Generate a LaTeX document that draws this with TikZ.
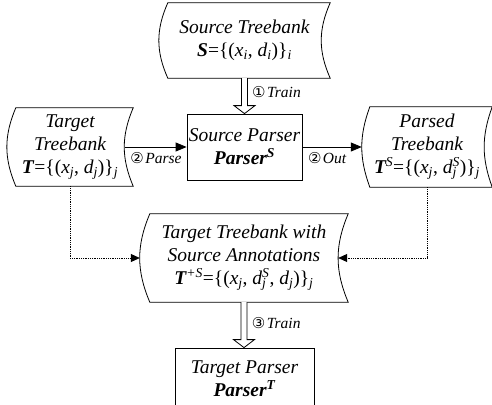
\documentclass[tikz,border=0pt]{standalone}
\usepackage{fontspec}
\setmainfont{Liberation Serif}
\newfontfamily\symfont{DejaVu Sans}
\usetikzlibrary{arrows.meta,calc}
\newcommand\sbs[1]{\textsubscript{\itshape #1}}
\newcommand\sbsp[2]{\rlap{\textsubscript{\itshape #1}}\textsuperscript{\itshape #2}}
\newcommand\storedborder[3]{%
  \draw[boxline] ([xshift=#2]#1.north west) -- (#1.north east)
    to[bend right=#3] (#1.south east) -- ([xshift=#2]#1.south west)
    to[bend left=#3] ([xshift=#2]#1.north west) -- cycle;}
\newcommand\hollowarrow[2]{%
  \draw[boxline, fill=white] let \p1=(#1), \p2=(#2) in
    (\x1-3pt,\y1) -- (\x1-3pt,\y2+8pt) -- (\x1-10.5pt,\y2+8pt) -- (\x1,\y2)
    -- (\x1+10.5pt,\y2+8pt) -- (\x1+3pt,\y2+8pt) -- (\x1+3pt,\y1);}
\tikzset{
  boxline/.style={line width=0.8pt, line join=miter},
  txt/.style={inner sep=0pt, align=center, font=\fontsize{19.5}{23}\selectfont\itshape},
  rectbox/.style={txt, draw, line width=0.8pt},
  lbl/.style={inner sep=0pt, font=\fontsize{15.5}{17}\selectfont\itshape},
  solidarrow/.style={line width=0.8pt, -{Triangle[length=11pt,width=9pt]}},
  dotarrow/.style={line width=0.8pt, densely dotted, -{Triangle[length=9pt,width=8pt]}},
}
\newcommand\circnum[1]{{\symfont\fontsize{15}{16}\selectfont #1}\kern1.5pt}
\begin{document}
\begin{tikzpicture}[x=1pt,y=1pt]
\useasboundingbox (0,0) rectangle (492,-404);
% nodes
\node[txt, minimum width=171pt, minimum height=75pt] (st) at (244.5,-40.5)
  {Source Treebank\\\textbf{S}\textup{=\{(}x\sbs{i}\textup{, }d\sbs{i}\textup{)\}}\sbs{i}};
\node[rectbox, minimum width=115pt, minimum height=66pt] (sp) at (244.5,-147)
  {Source Parser\\\textbf{Parser\textsuperscript{S}}};
\node[txt, minimum width=126pt, minimum height=78pt] (tt) at (70,-147)
  {Target\\Treebank\\\textbf{T}\textup{=\{(}x\sbs{j}\textup{, }d\sbs{j}\textup{)\}}\sbs{j}};
\node[txt, minimum width=130pt, minimum height=80pt] (pt) at (427,-147)
  {Parsed\\Treebank\\\textbf{T}\textsuperscript{S}\textup{=\{(}x\sbs{j}\textup{, }d\sbsp{j}{S}\textup{)\}}\sbs{j}};
\node[txt, minimum width=208pt, minimum height=88pt] (ann) at (244,-258)
  {Target Treebank with\\Source Annotations\\\textbf{T}\textsuperscript{+S}\textup{=\{(}x\sbs{j}\textup{, }d\sbsp{j}{S}\textup{, }d\sbs{j}\textup{)\}}\sbs{j}};
\node[rectbox, minimum width=139pt, minimum height=62pt] (tp) at (244.5,-379)
  {Target Parser\\\textbf{Parser\textsuperscript{T}}};
% stored-data borders
\storedborder{st}{9pt}{24}
\storedborder{tt}{9pt}{23}
\storedborder{pt}{8pt}{20}
\storedborder{ann}{10pt}{23}
% hollow arrows
\hollowarrow{st.south}{sp.north}
\hollowarrow{ann.south}{tp.north}
\node[lbl, anchor=west] (l1) at ($(st.south)!0.5!(sp.north)+(7.5,4)$) {\circnum{①}Train};
\node[lbl, anchor=west] (l3) at ($(ann.south)!0.5!(tp.north)+(7.5,2)$) {\circnum{③}Train};
% solid arrows
\draw[solidarrow] ([xshift=-8pt]tt.east) -- (sp.west)
  node[lbl, midway, below=5pt] (l2a) {\circnum{②}Parse};
\draw[solidarrow] (sp.east) -- (pt.west)
  node[lbl, midway, below=5pt, xshift=-5pt] (l2b) {\circnum{②}Out};
% dotted arrows
\draw[dotarrow] (tt.south) |- (ann.west);
\draw[dotarrow] (pt.south) |- ([xshift=-10pt]ann.east);
\end{tikzpicture}
\end{document}
